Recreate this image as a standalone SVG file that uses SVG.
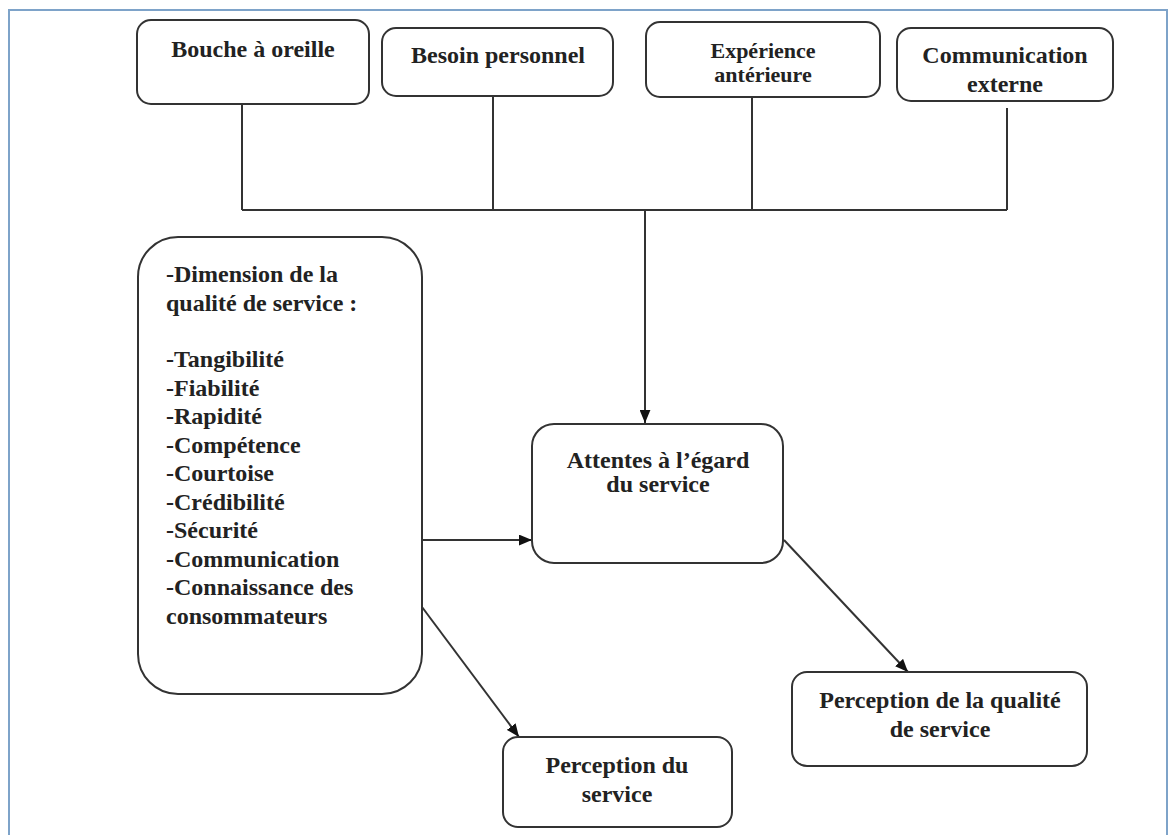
<svg xmlns="http://www.w3.org/2000/svg" width="1168" height="835" viewBox="0 0 1168 835">
<style>
.box{fill:#fff;stroke:#333;stroke-width:2}
.t{font-family:"Liberation Serif","Times New Roman",serif;font-weight:bold;font-size:24px;fill:#222}
.c{text-anchor:middle}
.ln{fill:none;stroke:#333;stroke-width:2}
</style>
<defs>
<marker id="ah" viewBox="0 0 12 10" refX="12" refY="5" markerWidth="13" markerHeight="11" markerUnits="userSpaceOnUse" orient="auto">
<path d="M0,0 L12,5 L0,10 z" fill="#111"/>
</marker>
</defs>
<rect width="1168" height="835" fill="#fff"/>
<path d="M9,835 V10 H1167 V835" fill="none" stroke="#7ea3c9" stroke-width="2"/>
<g id="connectors">
<path class="ln" d="M242,104 V210 M493,96 V210 M752,96 V210 M1007,108 V210 M242,210 H1007"/>
<path class="ln" d="M645,210 V423" marker-end="url(#ah)"/>
<path class="ln" d="M422,540 H532" marker-end="url(#ah)"/>
<path class="ln" d="M422,607 L519,737" marker-end="url(#ah)"/>
<path class="ln" d="M784,540 L908,672" marker-end="url(#ah)"/>
</g>
<g id="bouche">
<rect class="box" x="137" y="20" width="232" height="84" rx="14"/>
<text class="t c" x="253" y="57">Bouche à oreille</text>
</g>
<g id="besoin">
<rect class="box" x="382" y="28" width="231" height="68" rx="14"/>
<text class="t c" x="498" y="63">Besoin personnel</text>
</g>
<g id="experience">
<rect class="box" x="646" y="22" width="234" height="75" rx="14"/>
<text class="t c" x="763" y="58" style="font-size:22px">Expérience</text>
<text class="t c" x="763" y="82" style="font-size:22px">antérieure</text>
</g>
<g id="communication">
<rect class="box" x="897" y="28" width="216" height="73" rx="14"/>
<text class="t c" x="1005" y="63">Communication</text>
<text class="t c" x="1005" y="92">externe</text>
</g>
<g id="dimension">
<rect class="box" x="138" y="237" width="284" height="457" rx="40"/>
<text class="t" x="166" y="282">-Dimension de la</text>
<text class="t" x="166" y="311">qualité de service :</text>
<text class="t" x="166" y="367">-Tangibilité</text>
<text class="t" x="166" y="396">-Fiabilité</text>
<text class="t" x="166" y="424">-Rapidité</text>
<text class="t" x="166" y="453">-Compétence</text>
<text class="t" x="166" y="481">-Courtoise</text>
<text class="t" x="166" y="510">-Crédibilité</text>
<text class="t" x="166" y="538">-Sécurité</text>
<text class="t" x="166" y="567">-Communication</text>
<text class="t" x="166" y="595">-Connaissance des</text>
<text class="t" x="166" y="624">consommateurs</text>
</g>
<g id="attentes">
<rect class="box" x="532" y="424" width="251" height="139" rx="22"/>
<text class="t c" x="658" y="468">Attentes à l’égard</text>
<text class="t c" x="658" y="492">du service</text>
</g>
<g id="perception-service">
<rect class="box" x="503" y="737" width="229" height="90" rx="15"/>
<text class="t c" x="617" y="773">Perception du</text>
<text class="t c" x="617" y="802">service</text>
</g>
<g id="perception-qualite">
<rect class="box" x="792" y="672" width="295" height="94" rx="15"/>
<text class="t c" x="940" y="708">Perception de la qualité</text>
<text class="t c" x="940" y="737">de service</text>
</g>
</svg>
